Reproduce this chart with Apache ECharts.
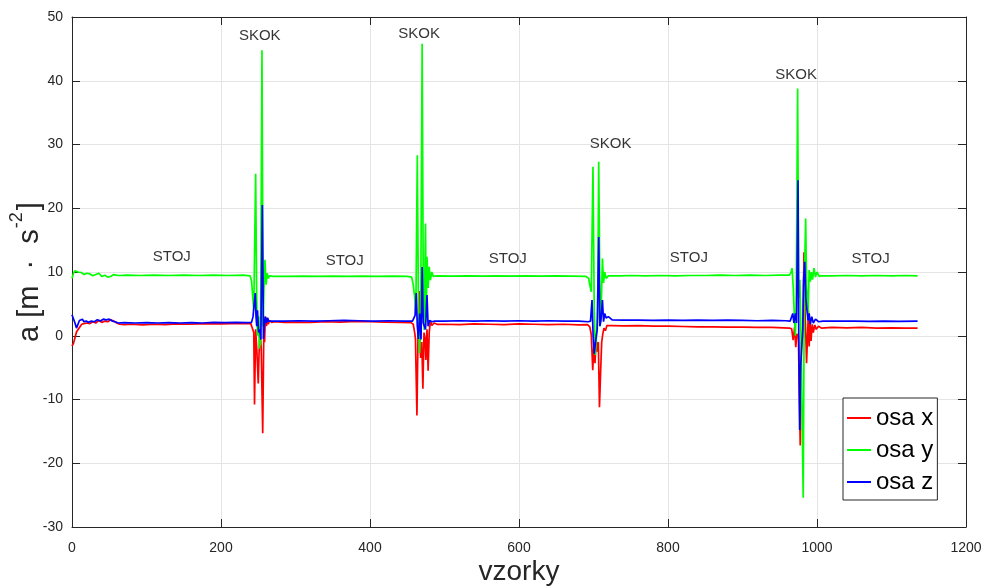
<!DOCTYPE html>
<html>
<head>
<meta charset="utf-8">
<script src="https://cdn.jsdelivr.net/npm/echarts@6/dist/echarts.min.js"></script>
<style>html,body{margin:0;padding:0;background:#fff;}#c{width:990px;height:587px;}</style>
</head>
<body>
<div id="c"></div>
<script>
// ---- data: [sample, value] ----
const seriesNames = ['osa x', 'osa y', 'osa z'];

const osaX = [
  [0,-1.6],[2,-1.2],[4,-0.3],[6,0.6],[8,0.9],[10,1.3],[13,1.8],[16,1.9],[20,2.0],[24,1.9],[28,2.2],[32,2.0],[36,2.4],[40,2.1],[44,2.3],[48,2.2],[52,2.5],[56,2.3],[60,2.0],[64,1.8],[70,1.75],[80,1.8],[95,1.7],[110,1.8],[125,1.75],[140,1.85],[155,1.8],[170,1.85],[185,1.9],[200,1.85],[215,1.9],[230,1.95],[240,1.9],
  [242,1.7],[244,0.5],[245,-10.8],[246.5,1.0],[248,-2],[250,-7.5],[251,-3],[252.5,0.5],[254,-2],[256,-15.3],[257.5,1.0],[258.5,-1],[259.5,3.0],[261,1.5],[262,2.8],[263.5,1.8],[265,2.4],[268,2.1],[272,2.2],
  [285,2.1],[300,2.15],[320,2.1],[340,2.2],[360,2.15],[380,2.25],[400,2.2],[420,2.15],[440,2.1],[455,2.05],
  [458,1.8],[460,0.5],[461,-0.5],[463,-12.5],[464.5,0.5],[466,7.0],[467,-1],[468,-3.5],[469.5,-1],[471,-8.3],[472.5,0.5],[474,-0.5],[475,-3.8],[476.5,1],[478,-5.5],[479.5,0.5],[481,2.3],[483,1.6],[486,2.0],[490,1.8],
  [500,1.8],[520,1.75],[540,1.85],[560,1.8],[580,1.75],[600,1.85],[620,1.8],[640,1.75],[660,1.8],[680,1.7],[692,1.75],
  [695,1.4],[697,0.2],[699,-5.4],[700.5,-1.5],[702,-4.3],[703.5,-0.5],[705,-2.5],[706.5,-1],[708,-11.2],[709.5,-5.9],[711,-1],[712.5,0.3],[714,1.2],[716,0.8],[718,1.6],
  [725,1.6],[740,1.55],[760,1.6],[780,1.5],[800,1.5],[820,1.45],[840,1.4],[860,1.4],[880,1.35],[900,1.35],[920,1.3],[940,1.3],[955,1.25],[963,1.2],
  [966,1.1],[968,-0.7],[970,1.4],[971.5,-1.8],[973,0.3],[975,-0.2],[977.5,-17.2],[979,-1],[980.5,-0.2],[981.5,3.5],[982.5,13.1],[984,3.5],[985,0.2],[986,-4.3],[987.5,0.5],[988.5,4.0],[989.5,-1.7],[990.5,2.2],[992,-0.8],[993.5,1.8],[995,0.5],[997,1.7],[999,1.0],[1002,1.5],[1006,1.2],
  [1020,1.3],[1040,1.25],[1060,1.3],[1080,1.2],[1100,1.25],[1120,1.2],[1135,1.2]
];

const osaY = [
  [0,9.0],[2,9.8],[4,10.2],[6,10.5],[8,10.0],[10,9.7],[13,9.9],[16,9.6],[20,9.8],[24,9.7],[28,9.4],[32,9.6],[36,9.8],[40,9.3],[44,9.5],[48,9.2],[52,9.3],[56,9.6],[62,9.45],[75,9.5],[90,9.45],[110,9.5],[130,9.45],[150,9.5],[170,9.45],[190,9.5],[210,9.45],[230,9.5],[239,9.4],
  [241,8.6],[243,5.5],[244,4.0],[246.5,25.4],[248,5],[249,0],[250.5,3],[251.5,-2],[253,-1],[255,44.8],[256.5,1.5],[257.5,6.7],[259,11.9],[260.5,8.0],[262,9.8],[263.5,9.0],[265,9.4],[270,9.3],
  [290,9.3],[310,9.35],[330,9.3],[350,9.35],[370,9.3],[390,9.35],[410,9.3],[430,9.35],[450,9.3],[456,9.2],
  [458,8.0],[460,6.0],[461.5,3.5],[463.5,28.3],[465,5],[466.6,-2.7],[468,2],[470,45.8],[471.5,8],[472.7,0.9],[474.5,17.6],[475.5,3],[476.5,12.4],[478,7.5],[479.5,10.8],[481,8.7],[483,10.0],[485,9.3],[490,9.4],
  [510,9.35],[530,9.4],[550,9.35],[570,9.4],[590,9.35],[610,9.4],[630,9.35],[650,9.4],[670,9.35],[690,9.3],
  [693.5,9.0],[695,8.0],[697,6.9],[699.3,26.5],[701,4],[702.5,-3],[704,0],[705.5,3],[707,27.3],[709,1.5],[710.5,5],[712,12.1],[713.5,8.3],[715,10.0],[717,9.0],[720,9.4],
  [735,9.4],[750,9.45],[770,9.4],[790,9.45],[810,9.4],[830,9.45],[850,9.45],[870,9.5],[890,9.45],[910,9.5],[930,9.45],[950,9.5],[963,9.5],
  [965,9.9],[966.5,10.6],[968,7.8],[969.5,3.5],[971,0],[972,4],[974,38.8],[975.5,6],[977,8.8],[978.5,0],[981.5,-25.4],[983,8.8],[984.8,18.4],[986,7.8],[988,3.5],[989.5,10.3],[991,8.5],[992.5,10.0],[994,8.8],[996,10.6],[998,9.2],[1000,10.0],[1003,9.3],[1006,9.4],
  [1020,9.4],[1040,9.45],[1060,9.4],[1080,9.45],[1100,9.4],[1120,9.45],[1135,9.4]
];

const osaZ = [
  [0,3.3],[2,3.0],[4,2.0],[6,1.2],[8,1.5],[10,2.4],[12,2.1],[14,2.6],[16,2.2],[19,2.3],[22,2.1],[26,2.3],[30,2.2],[34,2.5],[38,2.3],[42,2.6],[46,2.5],[50,2.6],[54,2.3],[58,2.2],[62,2.0],[70,2.05],[85,2.0],[100,2.05],[115,2.0],[130,2.05],[145,2.0],[160,2.05],[175,2.0],[190,2.1],[205,2.05],[220,2.1],[235,2.05],[241,2.1],
  [243,3.0],[244.5,5.0],[246,6.7],[247,3.0],[248,1.5],[249,4.0],[250.5,0.5],[252,1.0],[253.5,-0.6],[255.5,20.5],[257,-0.5],[258,1.5],[259.5,3.0],[261,2.0],[262.5,2.8],[264,2.3],[268,2.3],
  [285,2.3],[305,2.35],[325,2.3],[345,2.35],[365,2.4],[385,2.35],[405,2.3],[425,2.35],[445,2.3],[457,2.3],
  [459,2.2],[460.5,3.2],[462,6.7],[463.5,1.5],[465,-0.5],[466.6,3.5],[468.5,-0.6],[470,10.8],[471.5,2.0],[473,1.5],[474.5,1.0],[476.5,6.4],[478,1.5],[480,2.4],[483,2.2],[487,2.3],
  [500,2.3],[520,2.35],[540,2.3],[560,2.35],[580,2.3],[600,2.35],[620,2.3],[640,2.35],[660,2.3],[680,2.3],[693,2.2],
  [696,2.3],[698,5.6],[699.5,0],[701,-2.8],[703,-0.7],[705,1.0],[707,15.5],[708.5,1.5],[710,2.4],[712,5.6],[713.5,2.2],[715,3.5],[717,2.8],[720,3.0],[725,2.5],
  [740,2.45],[760,2.45],[780,2.4],[800,2.45],[820,2.4],[840,2.45],[860,2.4],[880,2.45],[900,2.4],[920,2.35],[940,2.4],[958,2.35],[964,2.3],
  [966,2.6],[967.5,3.5],[969,2.0],[971,3.5],[972.5,2.0],[974.5,24.4],[975.5,0.5],[976.7,-14.8],[978,-5],[979.5,-1.8],[981,1.0],[982,8.7],[983.5,11.6],[985,6.0],[986.5,4.0],[988,2.4],[989.5,3.5],[991,1.8],[993,3.0],[995,2.0],[998,2.6],[1002,2.2],[1008,2.3],
  [1030,2.3],[1050,2.3],[1070,2.25],[1090,2.3],[1110,2.25],[1135,2.3]
];

// annotations: [sample, value, text]
const notes = [
  [252,47.0,'SKOK'],[466,47.3,'SKOK'],[723,30.1,'SKOK'],[972,40.9,'SKOK'],
  [134,12.35,'STOJ'],[366,11.7,'STOJ'],[585,12.0,'STOJ'],[828,12.2,'STOJ'],[1072,12.0,'STOJ']
];

const xTicks = { min: 0, max: 1200, interval: 200 };
const yTicks = { min: -30, max: 50, interval: 10 };
const colors = ['#ff0000', '#00ff00', '#0000ff'];

const FONT = '"Liberation Sans", Arial, Helvetica, sans-serif';
const AX = '#262626';
const GRIDC = '#e4e4e4';

const chart = echarts.init(document.getElementById('c'), null, { renderer: 'canvas' });

const baseAxisLine = { show: true, onZero: false, lineStyle: { color: AX, width: 1 } };
const tickIn = { show: true, inside: true, length: 8, lineStyle: { color: AX, width: 1 } };
const plain = v => String(v);

chart.setOption({
  animation: false,
  backgroundColor: '#ffffff',
  grid: { left: 72, right: 24, top: 17, bottom: 60, containLabel: false, outerBoundsMode: 'none' },
  xAxis: [
    {
      type: 'value', min: xTicks.min, max: xTicks.max, interval: xTicks.interval,
      axisLine: baseAxisLine, axisTick: tickIn,
      axisLabel: { color: AX, fontSize: 14, fontFamily: FONT, margin: 14, formatter: plain },
      splitLine: { show: true, lineStyle: { color: GRIDC, width: 1 } },
      name: 'vzorky', nameLocation: 'middle', nameGap: 31, nameMoveOverlap: false,
      nameTextStyle: { color: AX, fontSize: 28, fontFamily: FONT }
    },
    {
      type: 'value', position: 'top', min: xTicks.min, max: xTicks.max, interval: xTicks.interval,
      axisLine: baseAxisLine, axisTick: tickIn,
      axisLabel: { show: false }, splitLine: { show: false }
    }
  ],
  yAxis: [
    {
      type: 'value', min: yTicks.min, max: yTicks.max, interval: yTicks.interval,
      axisLine: baseAxisLine, axisTick: tickIn,
      axisLabel: { color: AX, fontSize: 14, fontFamily: FONT, margin: 9, formatter: plain },
      splitLine: { show: true, lineStyle: { color: GRIDC, width: 1 } },
      name: '{a|a [m  ·  s}{s|-2}{a|]}', nameLocation: 'middle', nameGap: 28, nameRotate: 90, nameMoveOverlap: false,
      nameTextStyle: {
        color: AX, fontFamily: FONT,
        rich: {
          a: { fontSize: 29, fontFamily: FONT, color: AX, lineHeight: 36, verticalAlign: 'bottom' },
          s: { fontSize: 18, fontFamily: FONT, color: AX, lineHeight: 36, verticalAlign: 'top', padding: [0, 2, 0, 1] }
        }
      }
    },
    {
      type: 'value', position: 'right', min: yTicks.min, max: yTicks.max, interval: yTicks.interval,
      axisLine: baseAxisLine, axisTick: tickIn,
      axisLabel: { show: false }, splitLine: { show: false }
    }
  ],
  legend: {
    data: seriesNames,
    orient: 'vertical',
    left: 843, top: 398,
    icon: 'rect', itemWidth: 24, itemHeight: 2, itemGap: 4,
    padding: [6, 4, 4, 4],
    backgroundColor: '#ffffff',
    borderColor: AX, borderWidth: 1, borderRadius: 0,
    textStyle: { color: '#000', fontSize: 24, fontFamily: FONT, lineHeight: 28 },
    selectedMode: false
  },
  series: [
    { name: seriesNames[0], type: 'line', data: osaX, showSymbol: false, symbol: 'none', color: colors[0], lineStyle: { width: 1.7, color: colors[0] }, z: 2 },
    { name: seriesNames[1], type: 'line', data: osaY, showSymbol: false, symbol: 'none', color: colors[1], lineStyle: { width: 1.7, color: colors[1] }, z: 3 },
    { name: seriesNames[2], type: 'line', data: osaZ, showSymbol: false, symbol: 'none', color: colors[2], lineStyle: { width: 1.7, color: colors[2] }, z: 4 },
    {
      name: 'notes', type: 'scatter', data: notes, symbolSize: 1, silent: true, z: 5,
      itemStyle: { color: 'rgba(0,0,0,0)' },
      label: { show: true, position: 'inside', formatter: p => p.data[2], color: '#000', fontSize: 15, fontFamily: FONT }
    }
  ]
});
</script>
</body>
</html>
